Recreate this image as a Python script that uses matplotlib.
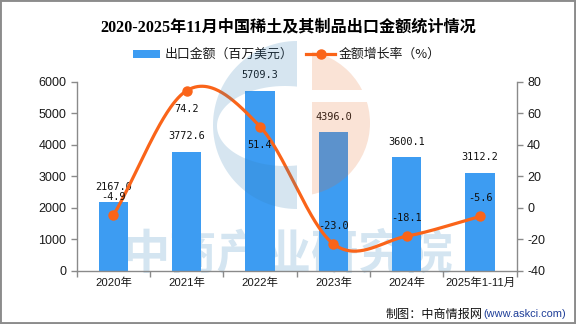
import numpy as np
import matplotlib
matplotlib.use("Agg")
import matplotlib.pyplot as plt
from matplotlib.patches import Rectangle, Circle, PathPatch
from matplotlib.path import Path
from matplotlib.lines import Line2D
from matplotlib.transforms import Affine2D

# ---- data ----
categories = ["2020年", "2021年", "2022年", "2023年", "2024年", "2025年1-11月"]
export_value = [2167.0, 3772.6, 5709.3, 4396.0, 3600.1, 3112.2]   # 百万美元
growth_rate = [-4.9, 74.2, 51.4, -23.0, -18.1, -5.6]              # %
left_ticks = [0, 1000, 2000, 3000, 4000, 5000, 6000]
right_ticks = [-40, -20, 0, 20, 40, 60, 80]
# label side for the growth-rate values: +1 above the point, -1 below
rate_label_side = [1, -1, -1, 1, 1, 1]

BAR = "#3d9cf2"
LINE = "#fa6419"
AXIS = "#8a8a8a"
TXT = "#1a1a1a"
CJK = ["Liberation Sans", "Noto Sans CJK SC"]
MONO = "DejaVu Sans Mono"

W, H = 576, 324
fig = plt.figure(figsize=(W / 100, H / 100), dpi=100)
fig.patch.set_facecolor("white")

# pixel coordinates (origin top-left) for decorations
px = Affine2D().scale(1 / W, -1 / H).translate(0, 1) + fig.transFigure

ax = fig.add_axes([76.7 / W, 1 - 270.7 / H, 440 / W, 189.2 / H])
ax.patch.set_visible(False)
ax2 = ax.twinx()

# watermark text sits underneath both axes
fig.text(288 / W, 1 - 254 / H, "中商产业研究院", ha="center", va="center",
         fontsize=34, family="Noto Sans CJK SC", fontweight="bold",
         color="#d4e5f1", zorder=-1)

x = np.arange(len(categories))

# ---- bars ----
ax.bar(x, export_value, width=0.4, color=BAR, zorder=2)
ax.set_xlim(-0.5, len(categories) - 0.5)
ax.set_ylim(left_ticks[0], left_ticks[-1])
ax.set_yticks(left_ticks)
ax.set_yticklabels([str(t) for t in left_ticks])

for xi, v in zip(x, export_value):
    ax.annotate(f"{v:.1f}", (xi, v), xytext=(0, 11), textcoords="offset points",
                ha="center", va="center", fontsize=7.4, family=MONO,
                color="#111111", zorder=5)


# ---- smooth growth-rate line ----
def catmull_rom(xs, ys, n=60):
    pts = np.column_stack([xs, ys]).astype(float)
    ext = np.vstack([2 * pts[0] - pts[1], pts, 2 * pts[-1] - pts[-2]])
    out = []
    t = np.linspace(0, 1, n, endpoint=False)[:, None]
    for i in range(1, len(ext) - 2):
        p0, p1, p2, p3 = ext[i - 1], ext[i], ext[i + 1], ext[i + 2]
        seg = 0.5 * ((2 * p1) + (-p0 + p2) * t
                     + (2 * p0 - 5 * p1 + 4 * p2 - p3) * t ** 2
                     + (-p0 + 3 * p1 - 3 * p2 + p3) * t ** 3)
        out.append(seg)
    out.append(pts[-1:])
    return np.vstack(out)


curve = catmull_rom(x, growth_rate)
ax2.plot(curve[:, 0], curve[:, 1], color=LINE, lw=2.3, solid_capstyle="round", zorder=3)
ax2.plot(x, growth_rate, "o", color=LINE, ms=6.5, zorder=4)
ax2.set_ylim(right_ticks[0], right_ticks[-1])
ax2.set_yticks(right_ticks)
ax2.set_yticklabels([str(t) for t in right_ticks])

for xi, v, s in zip(x, growth_rate, rate_label_side):
    ax2.annotate(f"{v:.1f}", (xi, v), xytext=(0, 13 * s), textcoords="offset points",
                 ha="center", va="center", fontsize=7.4, family=MONO,
                 color="#111111", zorder=5)

# ---- axes styling ----
for a in (ax, ax2):
    a.spines["top"].set_visible(False)
    for sp in a.spines.values():
        sp.set_color(AXIS)
        sp.set_linewidth(1.0)
ax.spines["right"].set_visible(False)
ax2.spines["left"].set_visible(False)
ax2.spines["bottom"].set_visible(False)

ax.tick_params(axis="y", length=4.5, width=1.0, color=AXIS, pad=3,
               labelsize=9, labelcolor=TXT)
ax2.tick_params(axis="y", length=4.5, width=1.0, color=AXIS, pad=3,
                labelsize=9, labelcolor=TXT)
for lab in ax.get_yticklabels() + ax2.get_yticklabels():
    lab.set_family("Liberation Sans")

# category boundaries carry the tick marks, centres carry the labels
ax.set_xticks(np.arange(-0.5, len(categories), 1.0))
ax.set_xticklabels([])
ax.set_xticks(x, minor=True)
ax.set_xticklabels(categories, minor=True)
ax.tick_params(axis="x", which="major", length=4.5, width=1.0, color=AXIS)
ax.tick_params(axis="x", which="minor", length=0, pad=5, labelsize=8.2, labelcolor=TXT)
for lab in ax.get_xticklabels(minor=True):
    lab.set_family(CJK)

# ---- logo overlay ----
# blue crescent
cx, cy, r_out = 297, 125, 84
ang = np.linspace(0, 2 * np.pi, 200)
outer = np.column_stack([cx + r_out * np.cos(ang), cy + r_out * np.sin(ang)])
icx, icy, irx, iry = 285, 126, 68, 40
inner = np.column_stack([icx + irx * np.cos(-ang), icy + iry * np.sin(-ang)])
verts = np.vstack([outer, outer[:1], inner, inner[:1]])
codes = ([Path.MOVETO] + [Path.LINETO] * (len(outer) - 1) + [Path.CLOSEPOLY]
         + [Path.MOVETO] + [Path.LINETO] * (len(inner) - 1) + [Path.CLOSEPOLY])
blue_logo = PathPatch(Path(verts, codes), transform=px, facecolor=(0.2, 0.5, 0.72),
                      alpha=0.2, edgecolor="none", zorder=10)
fig.add_artist(blue_logo)
blue_logo.set_clip_path(Rectangle((150, 30), 297 - 150, 200, transform=px))

# orange half disc, split by a white band
for y0, y1 in ((30, 90), (102, 230)):
    c = Circle((297, 123), 73, transform=px, facecolor=(0.9, 0.42, 0.16),
               alpha=0.19, edgecolor="none", zorder=10)
    fig.add_artist(c)
    c.set_clip_path(Rectangle((312, y0), 80, y1 - y0, transform=px))

# ---- title ----
fig.text(288 / W, 1 - 27.5 / H, "2020-2025年11月中国稀土及其制品出口金额统计情况",
         ha="center", va="center", fontsize=11.6, fontweight="bold",
         family=["Liberation Serif", "Noto Sans CJK SC"], color="#000000")

# ---- legend ----
fig.add_artist(Rectangle((133, 50), 27, 8, transform=px, facecolor=BAR,
                         edgecolor="none", zorder=11))
fig.text(164.5 / W, 1 - 54 / H, "出口金额（百万美元）", ha="left", va="center",
         fontsize=9.3, family="Noto Sans CJK SC", color=TXT)
fig.add_artist(Line2D([306, 335], [54, 54], transform=px, color=LINE, lw=2.3, zorder=11))
fig.add_artist(Line2D([320.5], [54], transform=px, marker="o", ms=6.5, color=LINE, zorder=11))
fig.text(339 / W, 1 - 54 / H, "金额增长率（%）", ha="left", va="center",
         fontsize=9.3, family="Noto Sans CJK SC", color=TXT)

# ---- source ----
fig.text(483 / W, 1 - 314 / H, "制图：中商情报网", ha="right", va="center",
         fontsize=8.7, family="Noto Sans CJK SC", color="#111111")
fig.text(566 / W, 1 - 314 / H, "(www.askci.com)", ha="right", va="center",
         fontsize=7.9, family="Liberation Sans", color="#1f3f99")

# ---- frame ----
fig.add_artist(Rectangle((0, 0), 1, 1, transform=fig.transFigure, fill=False,
                         edgecolor="#8c8c8c", lw=2.8, zorder=20))

fig.savefig("out.png", dpi=100)
